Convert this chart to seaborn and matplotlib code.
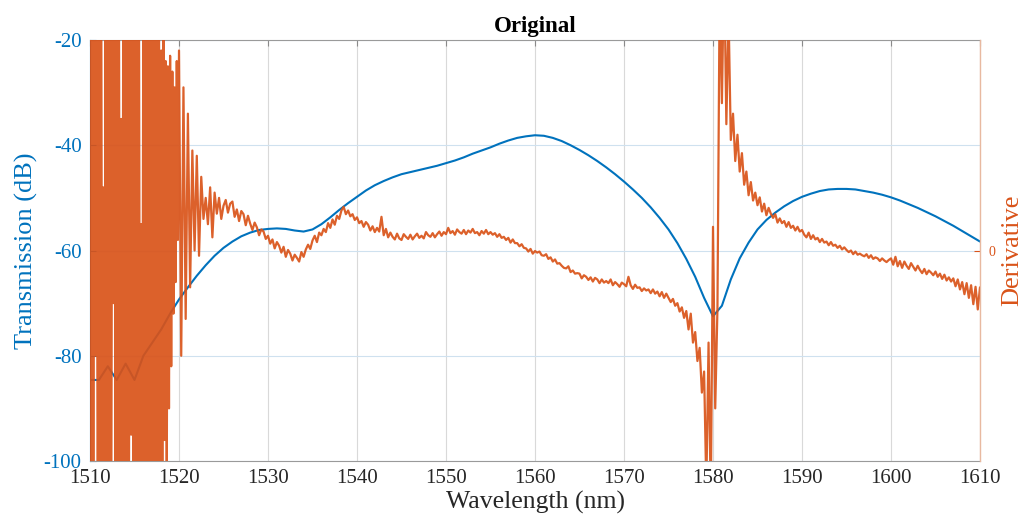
import numpy as np
import pandas as pd
import matplotlib
matplotlib.use("Agg")
import matplotlib.pyplot as plt
import seaborn as sns

# Transmission spectrum, 1 nm steps from 1510 to 1610 nm (dB)
trans_db = [
    -84.6, -84.6, -82.0, -84.6, -81.5, -84.6, -80.0, -77.5, -75.0, -72.0,
    -69.3, -67.0, -64.8, -62.8, -61.0, -59.5, -58.3, -57.3, -56.6, -56.1,
    -55.9, -55.8, -55.9, -56.2, -56.4, -56.0, -55.0, -53.7, -52.3, -51.0,
    -49.8, -48.6, -47.6, -46.8, -46.1, -45.5, -45.1, -44.7, -44.3, -43.9,
    -43.4, -42.9, -42.3, -41.6, -41.0, -40.4, -39.7, -39.1, -38.6, -38.3,
    -38.1, -38.2, -38.6, -39.2, -40.0, -40.9, -41.9, -43.0, -44.2, -45.5,
    -46.9, -48.4, -50.0, -51.8, -53.8, -56.0, -58.6, -61.6, -65.0, -69.0,
    -72.5, -70.5, -65.5, -61.5, -58.5, -56.0, -54.2, -52.8, -51.6, -50.6,
    -49.8, -49.2, -48.7, -48.4, -48.3, -48.3, -48.4, -48.7, -49.0, -49.4,
    -49.9, -50.5, -51.2, -51.9, -52.7, -53.5, -54.4, -55.3, -56.3, -57.3,
    -58.3,
]

# Derivative at the noisy band edge, 0.125 nm steps from 1510 to 1519.875 nm
derivative_edge = [
    55, -62, 48, -58, 60, -20, 52, -66,
    45, -50, 64, -55, 12, -60, 57, -48,
    62, -52, 50, -67, 46, -10, 58, -54,
    66, -47, 53, -60, 25, -58, 61, -45,
    49, -63, 57, -50, 62, -35, 54, -59,
    47, -55, 63, -48, 51, -61, 5, -52,
    58, -46, 44, -64, 60, -50, 52, -42,
    55, -57, 48, -45, 50, -53, 44, -41,
    38, -47, 42, -36, 36, -44, 35, -30,
    37, -22, 34, -12, 31, -6, 36, 2,
]

# Derivative, 0.25 nm steps from 1520 to 1610 nm
derivative = [
    # 1520
    38, -20, 31, -13, 26, -7, 19, 0, 18, -1, 14, 6, 10, 5, 12, 2.5, 11, 7, 10, 6,
    # 1525
    8.5, 9.6, 7.2, 8.9, 9.3, 6.4, 7.8, 5.6, 7.5, 6.9, 4.8, 6.6, 5.1, 3.9, 5.3, 4.4, 2.9, 4.0, 3.6, 2.2,
    # 1530
    2.8, 1.3, 2.1, 0.4, 1.6, 0.9, -0.4, 0.7, -1.2, 0.1, -0.6, -1.9, -0.8, -1.4, -2.1, -0.3, -1.2, 0.2, 1.1, 0.3,
    # 1535
    1.9, 2.8, 1.6, 3.4, 2.9, 4.1, 3.5, 5.2, 4.3, 5.9, 4.9, 6.6, 6.0, 7.6, 8.3, 6.9, 7.6, 6.5, 6.9, 5.8,
    # 1540
    6.3, 5.2, 5.6, 4.5, 5.4, 4.9, 3.8, 4.6, 3.5, 4.3, 3.6, 6.4, 2.9, 4.1, 2.5, 3.4, 2.6, 2.1, 3.2, 2.3,
    # 1545
    2.0, 3.1, 2.6, 2.2, 3.0, 2.1, 2.7, 3.2, 2.4, 2.8, 2.3, 3.5, 2.9, 2.6, 3.3, 2.5, 3.1, 3.6, 2.8, 3.5,
    # 1550
    3.1, 4.3, 3.3, 3.7, 3.0, 4.0, 3.5, 3.2, 3.9, 3.1, 3.8, 3.4, 4.1, 3.3, 3.5, 2.9, 3.7, 3.2, 3.9, 3.1,
    # 1555
    3.5, 3.0, 3.3, 2.6, 3.1, 2.4, 2.6, 2.0, 2.4, 1.5, 2.1, 1.4, 1.4, 0.8, 1.2, 0.5, 0.4, -0.2, 0.3, -0.6,
    # 1560
    -0.1, -0.4, -0.2, -0.9, -1.0, -0.7, -1.6, -1.3, -2.1, -1.7, -2.5, -2.4, -2.9, -3.3, -3.4, -3.0, -4.1, -3.8, -4.4, -4.3,
    # 1565
    -4.4, -5.3, -4.7, -5.0, -5.6, -5.1, -5.9, -5.2, -5.5, -6.2, -5.5, -6.1, -5.8, -6.2, -5.5, -6.6, -6.0, -6.4, -6.9, -6.1,
    # 1570
    -6.4, -6.8, -5.0, -6.6, -7.3, -6.5, -7.1, -7.0, -7.7, -7.2, -7.6, -7.4, -8.1, -7.4, -8.2, -7.8, -8.7, -7.9, -9.0, -8.2,
    # 1575
    -9.0, -9.8, -9.2, -10.5, -10.0, -11.6, -10.8, -12.8, -11.5, -15.0, -12.0, -17.5, -15.5, -21.0, -18.5, -27.0, -23.0, -45.0, -17.5, -48.0,
    # 1580
    4.5, -30, -11, 50, 28, 55, 24, 45, 21, 26, 17, 22, 15, 18.5, 12.5, 15, 10.5, 13, 9.5, 11,
    # 1585
    8.6, 10.1, 7.4, 8.9, 6.7, 8.1, 7.0, 6.2, 6.9, 5.3, 6.1, 5.2, 5.6, 4.5, 5.4, 4.3, 4.7, 3.8, 4.5, 3.6,
    # 1590
    3.9, 3.0, 2.5, 3.4, 2.2, 2.9, 2.1, 2.4, 1.6, 2.2, 1.5, 1.7, 1.0, 1.6, 0.9, 1.1, 0.5, 0.9, 0.2, 0.6,
    # 1595
    0.1, -0.3, 0.0, -0.7, -0.2, -0.8, -0.6, -0.9, -1.1, -0.7, -1.4, -0.9, -1.6, -1.3, -1.5, -2.0, -1.5, -1.9, -2.2, -1.8,
    # 1600
    -1.5, -2.7, -1.2, -3.0, -2.0, -3.3, -2.1, -2.9, -3.5, -2.4, -3.1, -3.8, -2.9, -3.7, -4.3, -3.5, -4.5, -3.8, -4.2, -4.7,
    # 1605
    -4.0, -5.0, -4.4, -5.4, -4.6, -5.7, -5.1, -5.9, -5.3, -6.8, -5.5, -7.4, -6.0, -8.3, -6.2, -9.0, -6.6, -10.2, -6.9, -11.2,
    # 1610
    -7.0,
]

x_ticks = [1510, 1520, 1530, 1540, 1550, 1560, 1570, 1580, 1590, 1600, 1610]
y_ticks = [-100, -80, -60, -40, -20]

BLUE = "#0072BD"
ORANGE = "#D95319"

sns.set_style("white")
plt.rcParams["font.family"] = ["Liberation Serif", "DejaVu Serif"]
plt.rcParams["axes.unicode_minus"] = False

trans_df = pd.DataFrame({
    "wavelength": np.linspace(1510, 1610, len(trans_db)),
    "transmission": trans_db,
})
deriv_wl = np.concatenate([
    np.linspace(1510, 1519.875, len(derivative_edge)),
    np.linspace(1520, 1610, len(derivative)),
])
deriv_df = pd.DataFrame({
    "wavelength": deriv_wl,
    "derivative": derivative_edge + derivative,
})

fig = plt.figure(figsize=(10.24, 5.31), dpi=100)
ax = fig.add_axes([90 / 1024, 70 / 531, 890 / 1024, 421 / 531])
ax2 = ax.twinx()

sns.lineplot(data=trans_df, x="wavelength", y="transmission", ax=ax,
             color=BLUE, linewidth=1.5, estimator=None, sort=False)
sns.lineplot(data=deriv_df, x="wavelength", y="derivative", ax=ax2,
             color=ORANGE, linewidth=1.6, alpha=0.92, estimator=None, sort=False)

ax.set_xlim(1510, 1610)
ax.set_ylim(-100, -20)
ax2.set_ylim(-40, 40)

ax.set_xticks(x_ticks)
ax.set_xticklabels([str(t) for t in x_ticks])
ax.set_yticks(y_ticks)
ax.set_yticklabels([str(t) for t in y_ticks])
ax2.set_yticks([0])
ax2.set_yticklabels(["0"])

# grid: grey verticals, faint blue horizontals
ax.set_axisbelow(True)
ax.xaxis.grid(True, color="#d9d9d9", linewidth=0.8)
ax.yaxis.grid(True, color="#cfe1ef", linewidth=0.8)

ax.tick_params(axis="x", direction="in", length=4, color="#8a8a8a",
               labelcolor="#262626", labelsize=15, pad=6, top=True)
ax.tick_params(axis="y", direction="in", length=4, colors=BLUE,
               labelsize=15, pad=6)
ax2.tick_params(axis="y", direction="in", length=4, colors=ORANGE,
                labelsize=10, pad=6)

for side in ("top", "bottom"):
    ax.spines[side].set_color("#9a9a9a")
    ax.spines[side].set_linewidth(0.8)
ax.spines["left"].set_color(BLUE)
ax.spines["left"].set_linewidth(0.8)
for side in ("top", "bottom", "left"):
    ax2.spines[side].set_visible(False)
ax2.spines["right"].set_color("#e8b9a0")
ax2.spines["right"].set_linewidth(1.0)
ax.spines["right"].set_visible(False)

ax.set_xlabel("Wavelength (nm)", fontsize=18.5, color="#262626", labelpad=2)
ax.set_ylabel("Transmission (dB)", fontsize=19, color=BLUE, labelpad=4)
ax2.set_ylabel("Derivative", fontsize=19, color=ORANGE, labelpad=4)
ax.set_title("Original", fontsize=16.5, fontweight="bold", color="black", pad=6)

fig.savefig("out.png", dpi=100, facecolor="white")
